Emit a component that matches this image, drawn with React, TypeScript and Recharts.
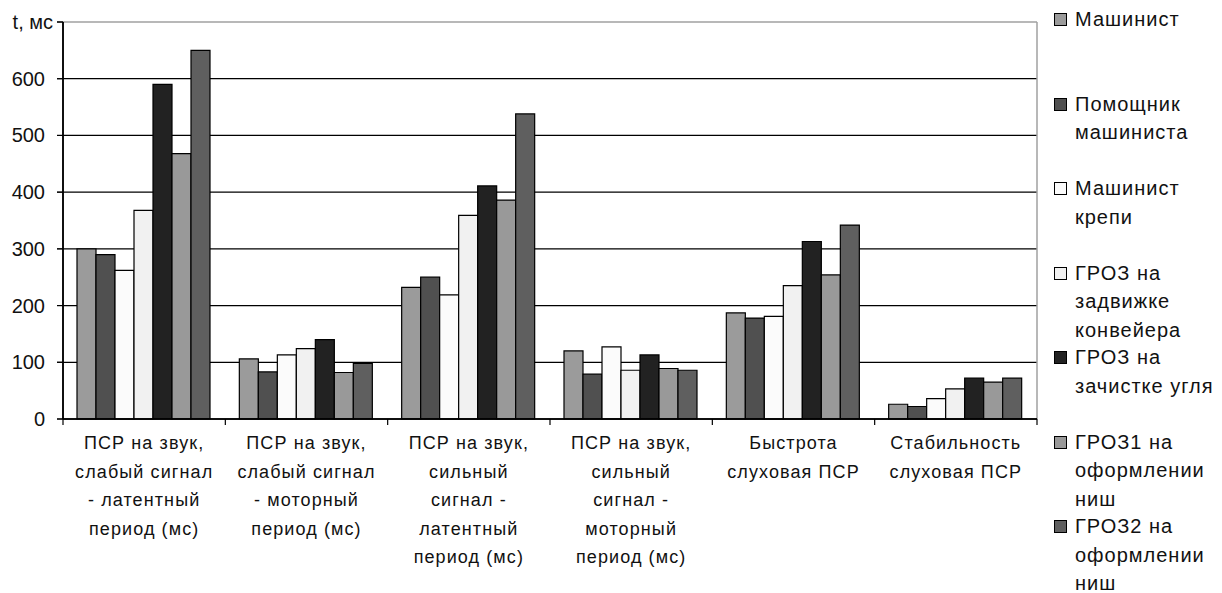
import React from "react";
import { BarChart, Bar, XAxis, YAxis, CartesianGrid, Legend, ReferenceLine } from "recharts";

const categories = [
  "ПСР на звук,\nслабый сигнал\n- латентный\nпериод (мс)",
  "ПСР на звук,\nслабый сигнал\n- моторный\nпериод (мс)",
  "ПСР на звук,\nсильный\nсигнал -\nлатентный\nпериод (мс)",
  "ПСР на звук,\nсильный\nсигнал -\nмоторный\nпериод (мс)",
  "Быстрота\nслуховая ПСР",
  "Стабильность\nслуховая ПСР",
];

const seriesKeys = ["s1", "s2", "s3", "s4", "s5", "s6", "s7"];
const seriesNames = [
  "Машинист",
  "Помощник\nмашиниста",
  "Машинист\nкрепи",
  "ГРОЗ на\nзадвижке\nконвейера",
  "ГРОЗ на\nзачистке угля",
  "ГРОЗ1 на\nоформлении\nниш",
  "ГРОЗ2 на\nоформлении\nниш",
];
const seriesColors = ["#9b9b9b", "#505050", "#fbfbfb", "#f1f1f1", "#222222", "#999999", "#5f5f5f"];

const mashinist = [300, 106, 232, 120, 187, 26];
const pomoshnik = [290, 83, 250, 79, 178, 22];
const krepi = [262, 113, 219, 127, 181, 36];
const zadvizhka = [368, 124, 359, 86, 235, 53];
const zachistka = [590, 140, 411, 113, 313, 72];
const groz1 = [468, 82, 386, 89, 254, 65];
const groz2 = [650, 98, 538, 86, 342, 72];

const yTicks = [0, 100, 200, 300, 400, 500, 600, 700];
const gridValues = [100, 200, 300, 400, 500, 600];

const seriesValues = [mashinist, pomoshnik, krepi, zadvizhka, zachistka, groz1, groz2];
const data = categories.map((name, i) => {
  const row: Record<string, string | number> = { name };
  seriesKeys.forEach((k, j) => (row[k] = seriesValues[j][i]));
  return row;
});

const FONT = "'Liberation Sans', Arial, sans-serif";

// category label + tick marks on the band edges (like Excel)
function CategoryTick({ x, y, payload, index }: any) {
  const lines = String(payload.value).split("\n");
  const half = payload.offset ?? 0;
  const last = index === categories.length - 1;
  return (
    <g>
      <line x1={x - half} x2={x - half} y1={y} y2={y + 6} stroke="#000" strokeWidth={1.2} />
      {last && <line x1={x + half} x2={x + half} y1={y} y2={y + 6} stroke="#000" strokeWidth={1.2} />}
      <text x={x} y={y} textAnchor="middle" fontFamily={FONT} fontSize={18} letterSpacing={1.1} fill="#111">
        {lines.map((l, i) => (
          <tspan key={i} x={x} dy={i === 0 ? 30 : 28.5}>
            {l}
          </tspan>
        ))}
      </text>
    </g>
  );
}

function ValueTick({ x, y, payload }: any) {
  const top = payload.value === 700;
  return (
    <g>
      <line x1={x + 12} x2={x + 18} y1={y} y2={y} stroke="#000" strokeWidth={1.2} />
      <text x={top ? x + 8 : x} y={y} dy={7} textAnchor="end" fontFamily={FONT} fontSize={20} fill="#111">
        {top ? "t, мс" : payload.value}
      </text>
    </g>
  );
}

function LegendBox() {
  return (
    <div style={{ fontFamily: FONT, fontSize: 20, letterSpacing: 1, color: "#111", paddingTop: 5 }}>
      {seriesNames.map((n, i) => (
        <div key={i} style={{ position: "relative", height: 84.5, paddingLeft: 21, lineHeight: "28.5px" }}>
          <span
            style={{
              position: "absolute",
              left: 0,
              top: 8,
              width: 11,
              height: 11,
              border: "1px solid #000",
              background: seriesColors[i],
            }}
          />
          {n.split("\n").map((l, j) => (
            <div key={j} style={{ whiteSpace: "nowrap" }}>{l}</div>
          ))}
        </div>
      ))}
    </div>
  );
}

export default function App() {
  return (
    <div style={{ marginLeft: -8, marginTop: -8, width: 1222, height: 593 }}>
      <BarChart
        width={1222}
        height={593}
        data={data}
        margin={{ top: 22, right: 185, bottom: 0, left: 0 }}
        barCategoryGap={14}
        barGap={0}
      >
        <CartesianGrid vertical={false} horizontalValues={gridValues} stroke="#000" strokeWidth={1.2} />
        <XAxis
          dataKey="name"
          height={174}
          stroke="#000"
          axisLine={{ stroke: "#000", strokeWidth: 1.5 }}
          tickLine={false}
          tickSize={0}
          tickMargin={0}
          interval={0}
          tick={<CategoryTick />}
        />
        <YAxis
          domain={[0, 700]}
          ticks={yTicks}
          interval={0}
          width={63}
          stroke="#000"
          tickSize={6}
          tickMargin={12}
          axisLine={{ stroke: "#000", strokeWidth: 1.5 }}
          tick={<ValueTick />}
        />
        <ReferenceLine y={700} stroke="#a0a0a0" strokeWidth={1.5} />
        <ReferenceLine x={categories[categories.length - 1]} position="end" stroke="#a0a0a0" strokeWidth={1.5} />
        {seriesKeys.map((k, i) => (
          <Bar
            key={k}
            dataKey={k}
            name={seriesNames[i]}
            fill={seriesColors[i]}
            stroke="#000"
            strokeWidth={1.2}
            isAnimationActive={false}
          />
        ))}
        <ReferenceLine x={categories[0]} position="start" stroke="#000" strokeWidth={1.5} />
        <ReferenceLine y={0} stroke="#000" strokeWidth={1.5} />
        <Legend
          layout="vertical"
          align="center"
          verticalAlign="middle"
          wrapperStyle={{ left: 1054, top: 0, width: 168 }}
          content={() => <LegendBox />}
        />
      </BarChart>
    </div>
  );
}
